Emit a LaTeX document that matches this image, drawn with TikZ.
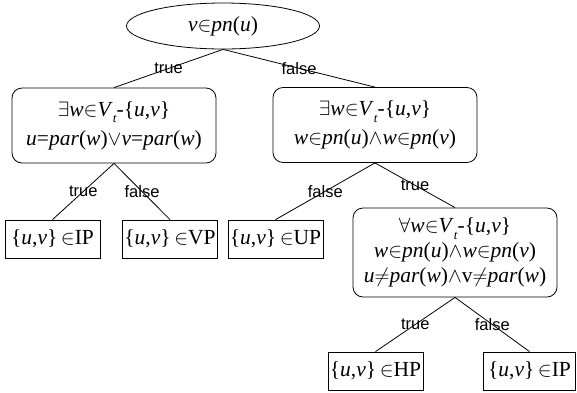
\documentclass[tikz,border=0pt]{standalone}
\usepackage{fontspec}
\setmainfont{Liberation Serif}
\newfontfamily\lblfont{Liberation Sans}
\usetikzlibrary{shapes.geometric}
\newcommand\mi[1]{\textit{#1}}
\newcommand\subt{\raisebox{-0.3em}{\fontsize{13}{13}\selectfont\mi{t}}}
\begin{document}
\begin{tikzpicture}[x=1pt,y=-1pt,
  every node/.style={font=\fontsize{21.5}{29}\selectfont, inner sep=0pt},
  cond/.style={draw, rounded corners=10pt, minimum width=204pt, align=center, line width=0.8pt},
  leaf/.style={draw, minimum width=95pt, minimum height=38pt, line width=0.8pt},
  lbl/.style={font=\lblfont\fontsize{16.5}{18}\selectfont},
  conn/.style={line width=0.8pt}]
\useasboundingbox (0,0) rectangle (577,392);
\node[draw, ellipse, minimum width=193pt, minimum height=46pt, line width=0.8pt] (root) at (223,26) {\mi{v}$\in$\mi{pn}(\mi{u})};
\node[cond, minimum height=75pt] (L) at (114,125.5) {$\exists$\mi{w}$\in$\mi{V}\subt-\{\mi{u},\mi{v}\}\\ \mi{u}=\mi{par}(\mi{w})$\vee$\mi{v}=\mi{par}(\mi{w})};
\node[cond, minimum height=75pt] (R) at (375,125) {$\exists$\mi{w}$\in$\mi{V}\subt-\{\mi{u},\mi{v}\}\\ \mi{w}$\in$\mi{pn}(\mi{u})$\wedge$\mi{w}$\in$\mi{pn}(\mi{v})};
\node[cond, minimum height=89pt, font=\fontsize{21.5}{25}\selectfont] (F) at (455,252.5) {$\forall$\mi{w}$\in$\mi{V}\subt-\{\mi{u},\mi{v}\}\\ \mi{w}$\in$\mi{pn}(\mi{u})$\wedge$\mi{w}$\in$\mi{pn}(\mi{v})\\ \mi{u}$\neq$\mi{par}(\mi{w})$\wedge$v$\neq$\mi{par}(\mi{w})};
\node[leaf] (IP1) at (52.5,239) {\{\mi{u},\mi{v}\}\,$\in$IP};
\node[leaf] (VP) at (170,239) {\{\mi{u},\mi{v}\}\,$\in$VP};
\node[leaf] (UP) at (275.5,239) {\{\mi{u},\mi{v}\}\,$\in$UP};
\node[leaf] (HP) at (375.5,371) {\{\mi{u},\mi{v}\}\,$\in$HP};
\node[leaf, minimum width=92pt] (IP2) at (529.5,371) {\{\mi{u},\mi{v}\}\,$\in$IP};
\draw[conn] (root.south) -- node[lbl]{true} (L.north);
\draw[conn] (root.south) -- node[lbl]{false} (R.north);
\draw[conn] (L.south) -- node[lbl]{true} (IP1.north);
\draw[conn] (L.south) -- node[lbl]{false} (VP.north);
\draw[conn] (R.south) -- node[lbl]{false} (UP.north);
\draw[conn] (R.south) -- node[lbl]{true} (F.north);
\draw[conn] (F.south) -- node[lbl]{true} (HP.north);
\draw[conn] (F.south) -- node[lbl]{false} (IP2.north);
\end{tikzpicture}
\end{document}
